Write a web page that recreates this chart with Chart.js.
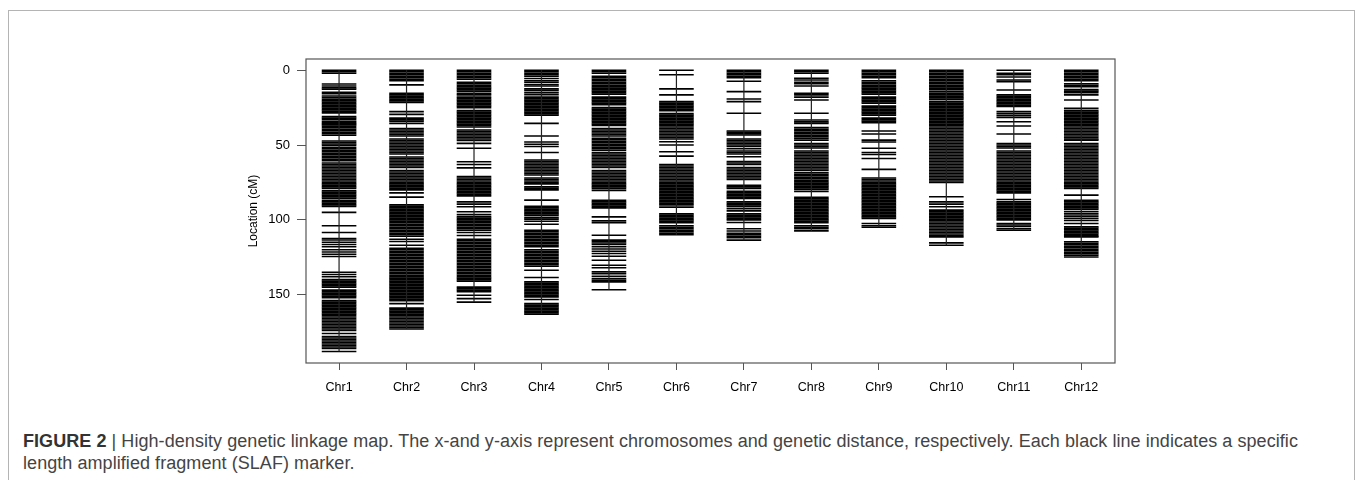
<!DOCTYPE html>
<html>
<head>
<meta charset="utf-8">
<script src="https://cdn.jsdelivr.net/npm/chart.js@4.4.1/dist/chart.umd.min.js"></script>
<style>
  body { margin: 0; background: #fff; width: 1355px; height: 481px; overflow: hidden; position: relative; }
  #frame { position: absolute; left: 8px; top: 10px; width: 1347px; height: 470px; border: 1px solid #b4b4b4; border-bottom: none; box-sizing: border-box; }
  #map { position: absolute; left: 0; top: 0; }
  #caption { position: absolute; left: 23px; top: 430px; font-family: "Liberation Sans", Arial, sans-serif; font-size: 18px; letter-spacing: 0.06px; line-height: 22px; color: #444; white-space: nowrap; }
  #caption b { color: #333; }
</style>
</head>
<body>
<div id="frame"></div>
<canvas id="map" width="1355" height="400"></canvas>
<div id="caption"><b>FIGURE 2</b> | High-density genetic linkage map. The x-and y-axis represent chromosomes and genetic distance, respectively. Each black line indicates a specific<br>length amplified fragment (SLAF) marker.</div>
<script>
// Chromosome names (x axis categories)
const chrNames = ['Chr1', 'Chr2', 'Chr3', 'Chr4', 'Chr5', 'Chr6', 'Chr7', 'Chr8', 'Chr9', 'Chr10', 'Chr11', 'Chr12'];

// Y axis tick values (cM)
const yTicks = [0, 50, 100, 150];

// Marker positions (cM), one list per chromosome
const chr1 = [0,1,2,9.2,10.5,11.8,12.7,14.7,15.7,17.2,18.3,19.5,20.5,21.5,22.5,23.5,24.5,25.5,26.5,27.5,28.5,31,32,33,34.3,35,35.8,36.5,37.5,38.5,39.5,40.5,41.5,42.5,43.5,47.3,48.3,49.3,50.2,51.5,52.5,53.5,54.5,55.5,56.5,57.5,58.5,59.5,60.5,62,63,64,65,66,67,68,69,70,71,72,73,74,75,76,77,78,79,80.6,81.5,82.5,83.5,84.5,85.5,87,88,89,90,91,95,104,108.5,112.5,113.5,115,116.5,118,120,121.5,123,124.5,135,136.5,138,140,141,142,143,144,145,147,148,149,150,151,152,154,155,156,157,158,159,160,161,162,163,164,165,166,167,168,169,170,171,172,173,174,176,178,179,180,181,182,183,184,185,186,188];
const chr2 = [0,1,2,3,4,5,6,7,9.8,15.5,16.5,17.5,18.5,19.5,20.5,21.5,27.7,29.5,32,33,34,35.5,39,40,41,42,43,44,46,47,48,49,50,51,52,53,54,55,56,58,59,60,61,62,63,64,65,67,68,69,70,71,72,73,74,75,76,77,78,79,80,82,84.8,90,91,92,93,94,95,96,97,98,99,100,101,102,103,104,105,106,107,108,109,110,111,113,114.5,117,119,120,121,122,123,124,125,126,127,128,129,130,131,132,133,134,135,136,137,138,139,140,141,142,143,144,145,146,147,148,149,150,151,152,153,154,156,159,160,161,162,163,164,165,166,167,168,169,170,171,172,173];
const chr3 = [0,1,2,3,4,5,6,8,9,10,11,12,13,14,15.5,16.5,18,19,20,21,22,23,24,25,27,28,29,30,31,32,33,34,35,36,37,38,40,41,42,43,44,45,46,47,48.9,52.2,61.2,63,65.3,71,72,73,74,75,76,77,78,79,80,81,82,83,84,88,89.5,91.3,94.6,96.5,98,99,100,101,102,103,104,105,106,107,108.5,110.5,113,114,115,116,117,118,119,120,121,122,123,124,125,126,127,128,129,130,131,132,133,134,135,136,137,138,139,140,141,145,146,147,148,150.4,152.7,155];
const chr4 = [0,1,2,3,4,5.5,7,8,9.5,10.5,12.5,13.5,15,16.3,18,19,20,21,22,23,24,25,26,27,28,29,30,35.5,44,48,49.5,51,55,60,61,62,63,64,65,66,67,68,69,70,72,73,74,75,76,78,79,80,86.8,91,92,93,94,95,96,97,98.5,99.5,101,103,107,108,109,110,111,112,113,114,115,116,117,118,120,121,122,123,124,125,126,127,128,129,130,131,133.7,138.6,141.5,142.5,143.5,144.5,145.5,146.5,147.5,148.5,149.5,150.5,151.5,153.3,156,157,158,159,160,161,162,163];
const chr5 = [0,1,2,4,5,6,7,8,9,10,11,12,13,14,15,16,18,19,20,21,22,23,25,26,27,28,29,30,31,32,33,34,35,36,37,39,40,41,42,43,44,45.5,46.5,47.5,48.5,49.5,50.5,51.5,52.5,53.5,55,56,57,58,59,60,61,62,63,64,65,67,68,69,70,71,72,73,74,75,76,77,78,79,80.3,87,88,89,90,91,92,98,100.7,102,110.3,113.6,114.5,115.5,116.5,118,119.5,121,122.5,124.3,127,130.4,132,134.8,136,137.7,139.3,140.5,141.5,146.7];
const chr6 = [0,3,12.5,16.5,21,22,23,24,25,26,27,29,30,31,32,33,34,35,36,37,38,39,40,41,42,43,44,45,46,47.8,50,54.5,57.4,63,64,65,66,67,68,69,70,71,72,73,74,75,76,77,78,79,80,81,82,83,84,85,86,87,88,89,90,91.5,96,97,98,99,100,101,102,104,105,106,107,108,109,110];
const chr7 = [0,1,2,3,4,5,7.4,14.3,19.2,21,28.8,40.6,41.5,42.5,43.3,46,47,48,49,50,51,52.5,54,55,56,57.8,61,62,63,65,66,67,68,69,70,71,72,73,77,78,79,81,82,83,84,85,85.7,88,89,90,91,92.5,94,96,97,98,99,100,101.8,106,107.5,109,110,111,112,113.6];
const chr8 = [0,1,2,5.4,6.5,8,9,10.5,15.4,16.5,18,19.9,28.8,33.3,34.5,35.5,38.4,39.5,40.5,41.5,42.5,43.5,44.5,45.5,46.7,49,50,51,52,54,55,56,57,58,59,60,61,62,63,64,65,66,67,68.5,69.5,70.5,71.5,72.5,73.5,74.5,75.5,76.5,77.5,78.5,79.5,81,85,86,87,88,89,90,91,92,93,94,95,96,97,98,99,100,101,102,104,105,106,107.4];
const chr9 = [0,1,2,3,4,5,7,8,9,10,11,12,13,14,15,16,18,19,20,21,22,24,25,26,27,28,29,30,32,33,34,35,40.6,42.6,46.7,48,52.2,55,56.3,59,66.3,72,73,74,75,76,77,78,79,80,81,82,83,84,85,86,87,88,89,90,91,92,93,94,95,96,97,98,99,102.5,104,105];
const chr10 = [0,1,2,3,4,5,6,7,8,9,10,11,12,13,14.3,15.5,16.5,17.5,18.5,19.5,21,22,23,24,25,26,27,28,29,30,31,32,33,34,35,36,37,38,39,40,41,42,43,44,45,46,47,48,49,50,51,52,53,54,55,56,57,58,59,60,61,62,63,64,65,66,67,68,69,70,71,72,73,74,75,84.6,88,89.5,91.3,93.5,94.5,95.5,96.5,97.5,98.5,99.5,100.5,101.5,102.5,103.5,104.5,105.5,106.5,107.5,108.5,109.5,110.5,111.4,115.4,117];
const chr11 = [0,2,3,4.5,6.5,7.6,13.2,16.5,17.5,18.5,19.5,20.5,21.5,22.5,23.5,24.3,27.7,29,30.3,31.5,34.4,37.3,42.6,49,50,51,52,54,55,56,57,58,59,60,61,62,63,64,65,66,67,68,69,70,71,72,73,74,75,76,77,78,79,80,81,82,86.4,88,89,90,91,92,93,94,95,96,97,98,99,100,102.5,103.5,104.5,106,107];
const chr12 = [0,1,2,3,4,5,6,7,9,10,11,13,14,15,16.5,19.9,25.5,27,28,29,30,31,32,33,34,35,36,37,38,39,40,41,42,43,44,45,46,46.7,49,50,51,52,53,54,55,56,57,58,59,60,61,62,63,64,65,66,67,68,69,70,71,72,73,74,75,76,77,78,79,83.5,87,88,89,90,91,92,93,94.6,96,97.5,99,100.5,102.5,104.7,105.7,106.7,107.7,108.7,109.7,110.7,111.4,114.7,115.7,116.7,117.7,118.7,119.7,120.7,121.7,122.7,123.7,124.8];

const markerLists = [chr1, chr2, chr3, chr4, chr5, chr6, chr7, chr8, chr9, chr10, chr11, chr12];

const datasets = [];

// backbone of each chromosome, from 0 to the last marker
markerLists.forEach((list, i) => {
    datasets.push({
        type: 'line',
        data: [{ x: i + 1, y: 0 }, { x: i + 1, y: Math.max(...list) }],
        borderColor: '#222',
        borderWidth: 1.2,
        pointRadius: 0,
        fill: false
    });
});

// one short horizontal line per marker
markerLists.forEach((list, i) => {
    datasets.push({
        type: 'scatter',
        data: list.map(v => ({ x: i + 1, y: v })),
        pointStyle: 'line',
        pointRadius: 17.3,
        borderColor: '#000',
        borderWidth: 1.6,
        pointHoverRadius: 17.3
    });
});

// box round the plotting region
const boxPlugin = {
    id: 'box',
    afterDraw(chart) {
        const a = chart.chartArea;
        const ctx = chart.ctx;
        ctx.save();
        ctx.strokeStyle = '#555';
        ctx.lineWidth = 1.2;
        ctx.strokeRect(a.left, a.top, a.right - a.left, a.bottom - a.top);
        ctx.restore();
    }
};

new Chart(document.getElementById('map'), {
    type: 'scatter',
    data: { datasets: datasets },
    options: {
        responsive: false,
        animation: false,
        events: [],
        layout: { padding: { left: 246, right: 240, top: 59, bottom: 7 } },
        plugins: { legend: { display: false }, tooltip: { enabled: false } },
        scales: {
            x: {
                type: 'linear',
                min: 0.51,
                max: 12.5,
                afterBuildTicks: scale => { scale.ticks = chrNames.map((_, i) => ({ value: i + 1 })); },
                afterFit: scale => { scale.height = 30; },
                border: { display: false },
                grid: { drawOnChartArea: false, drawTicks: true, tickLength: 7, color: '#555', lineWidth: 1 },
                ticks: {
                    color: '#000',
                    padding: 10,
                    maxRotation: 0,
                    autoSkip: false,
                    font: { family: 'Liberation Sans, Arial, sans-serif', size: 12.5 },
                    callback: v => chrNames[v - 1]
                }
            },
            y: {
                type: 'linear',
                reverse: true,
                min: -7.5,
                max: 195.7,
                afterBuildTicks: scale => { scale.ticks = yTicks.map(v => ({ value: v })); },
                afterFit: scale => { scale.width = 60; },
                border: { display: false },
                grid: { drawOnChartArea: false, drawTicks: true, tickLength: 9, color: '#555', lineWidth: 1 },
                ticks: {
                    color: '#000',
                    padding: 7,
                    font: { family: 'Liberation Sans, Arial, sans-serif', size: 13 }
                },
                title: {
                    display: true,
                    text: 'Location (cM)',
                    color: '#000',
                    padding: 0,
                    font: { family: 'Liberation Sans, Arial, sans-serif', size: 12 }
                }
            }
        }
    },
    plugins: [boxPlugin]
});
</script>
</body>
</html>
